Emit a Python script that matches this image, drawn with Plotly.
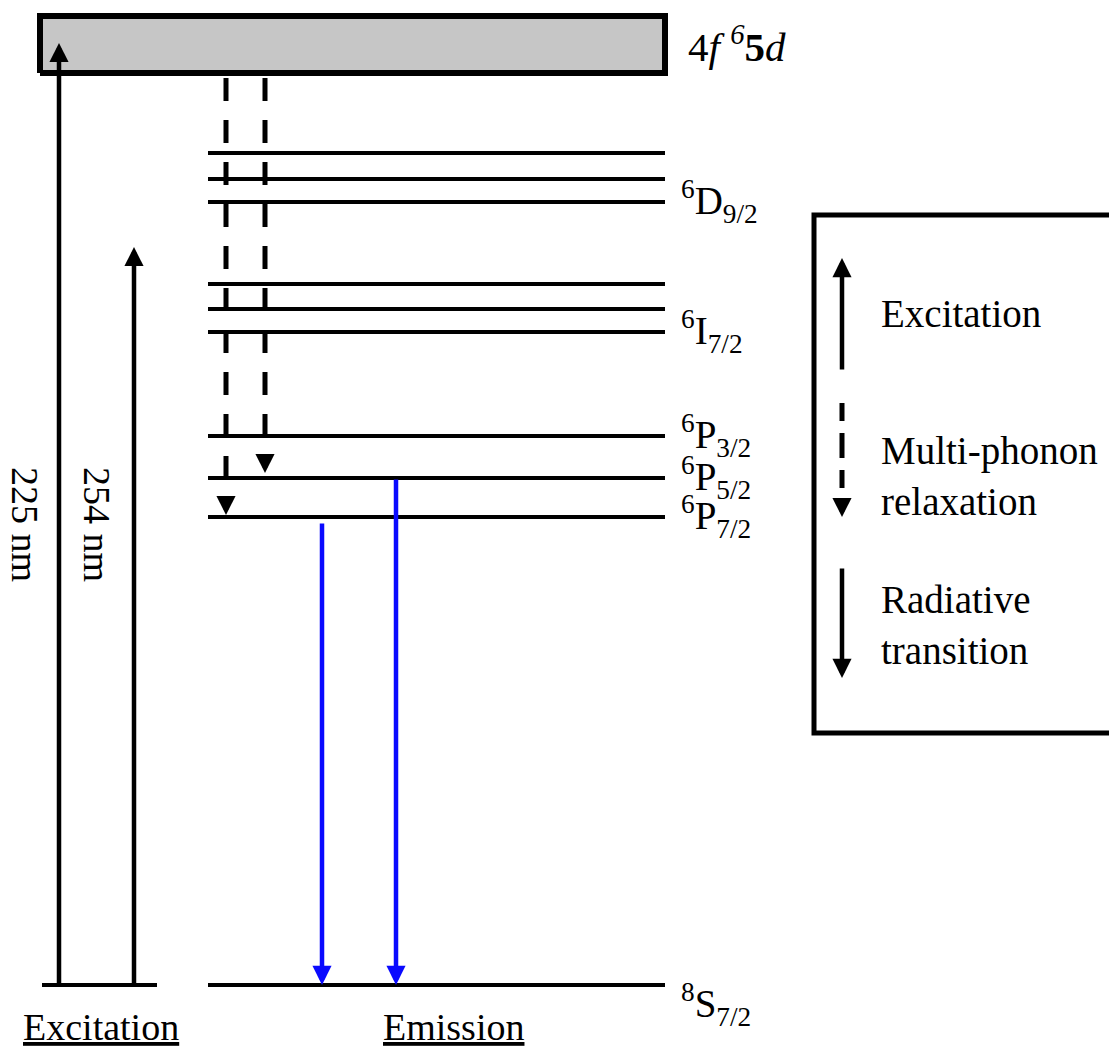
import plotly.graph_objects as go

# ---------------- data (energy in arbitrary units; ground = 0) -------------
band_label = "4<i>f</i> <sup><i>6</i></sup><b>5</b><i>d</i>"
band_energy = [912, 969]                      # lower / upper edge of the 4f65d band

level_terms = ["<sup>6</sup>D<sub>9/2</sub>", "<sup>6</sup>I<sub>7/2</sub>",
               "<sup>6</sup>P<sub>3/2</sub>", "<sup>6</sup>P<sub>5/2</sub>",
               "<sup>6</sup>P<sub>7/2</sub>", "<sup>8</sup>S<sub>7/2</sub>"]
level_groups = [[832, 806, 783], [701, 676, 653], [549], [507], [468], [0]]

excitation_labels = ["225 nm", "254 nm"]
excitation_top = [942, 738]                  # arrow tips
relax_end = [470, 512]                       # multi-phonon relaxation arrow tips (6P7/2, 6P5/2)
emission_start = [463, 507]                  # radiative transitions 6P7/2 -> 8S7/2, 6P5/2 -> 8S7/2
emission_end = [0, 0]

legend_items = ["Excitation", "Multi-phonon<br>relaxation", "Radiative<br>transition"]
column_titles = ["Excitation", "Emission"]

# ---------------- layout constants ----------------
W, H = 1109, 1050
YTOP = 985
FONT = "Liberation Serif"
BLUE = "#0a0aff"

lvl_x0, lvl_x1 = 208, 665
exc_base = [42, 157]
exc_x = [59, 134]
relax_x = [226, 265]
emis_x = [322, 396]
relax_top = 907

fig = go.Figure()

# band (4f65d)
fig.add_trace(go.Scatter(
    x=[40, 665, 665, 40, 40],
    y=[band_energy[0], band_energy[0], band_energy[1], band_energy[1], band_energy[0]],
    mode="lines", fill="toself", fillcolor="#c6c6c6",
    line=dict(color="black", width=6), hoverinfo="skip", showlegend=False))

# energy levels
lx, ly = [], []
for grp in level_groups:
    for e in grp:
        lx += [lvl_x0, lvl_x1, None]
        ly += [e, e, None]
lx += [exc_base[0], exc_base[1], None]
ly += [0, 0, None]
fig.add_trace(go.Scatter(x=lx, y=ly, mode="lines", line=dict(color="black", width=4),
                         hoverinfo="skip", showlegend=False))

# dashed relaxation lines
for xx, e in zip(relax_x, relax_end):
    fig.add_trace(go.Scatter(x=[xx, xx], y=[relax_top, e + 18], mode="lines",
                             line=dict(color="black", width=5, dash="23px,19px"),
                             hoverinfo="skip", showlegend=False))

# legend dashed line
fig.add_trace(go.Scatter(x=[842, 842], y=[YTOP - 403, YTOP - 500], mode="lines",
                         line=dict(color="black", width=5, dash="18px,12px,25px,12px"),
                         hoverinfo="skip", showlegend=False))

annotations = []


def arrow(x, y_tail, y_tip, color="black", width=4.5):
    annotations.append(dict(x=x, y=y_tip, ax=x, ay=y_tail, xref="x", yref="y",
                            axref="x", ayref="y", text="", showarrow=True,
                            arrowhead=2, arrowsize=0.85, arrowwidth=width,
                            arrowcolor=color, standoff=0))


# excitation arrows
for xx, top in zip(exc_x, excitation_top):
    arrow(xx, 0, top)
# relaxation heads
for xx, e in zip(relax_x, relax_end):
    arrow(xx, e + 20, e)
# emission arrows
for xx, s, t in zip(emis_x, emission_start, emission_end):
    arrow(xx, s, t, color=BLUE)
# legend arrows
arrow(842, YTOP - 371, YTOP - 258)
arrow(842, YTOP - 497, YTOP - 517)
arrow(842, YTOP - 567, YTOP - 678)

# legend box
fig.add_shape(type="rect", xref="x", yref="y", x0=814, x1=1130,
              y0=YTOP - 733, y1=YTOP - 215, line=dict(color="black", width=5),
              fillcolor="rgba(0,0,0,0)")

txt = dict(family=FONT, color="black")

# band label
annotations.append(dict(x=686, y=941, xref="x", yref="y", text=band_label,
                        showarrow=False, xanchor="left", yanchor="middle",
                        font=dict(size=41, **txt)))

# level labels
for term, g in zip(level_terms, level_groups):
    e = min(g)
    if e == 0:
        e = -20
    annotations.append(dict(x=679, y=e + 1, xref="x", yref="y", text=term,
                            showarrow=False, xanchor="left", yanchor="middle",
                            font=dict(size=39, **txt)))

# wavelength labels
for xx, lab in zip([25, 97], excitation_labels):
    annotations.append(dict(x=xx, y=YTOP - 524, xref="x", yref="y", text=lab,
                            textangle=90, showarrow=False, xanchor="center",
                            yanchor="middle", font=dict(size=38, **txt)))

# column titles
for xx, lab in zip([101, 453], column_titles):
    annotations.append(dict(x=xx, y=YTOP - 1027, xref="x", yref="y",
                            text="<u>" + lab + "</u>", showarrow=False,
                            xanchor="center", yanchor="middle",
                            font=dict(size=38, **txt)))

# legend texts
for yy, lab in zip([313, 476, 625], legend_items):
    annotations.append(dict(x=879, y=YTOP - yy, xref="x", yref="y", text=lab,
                            showarrow=False, xanchor="left", yanchor="middle",
                            align="left", font=dict(size=39, **txt)))

fig.update_layout(
    width=W, height=H, margin=dict(l=0, r=0, t=0, b=0),
    paper_bgcolor="white", plot_bgcolor="white",
    xaxis=dict(range=[0, W], visible=False, fixedrange=True),
    yaxis=dict(range=[YTOP - H, YTOP], visible=False, fixedrange=True),
    annotations=annotations, showlegend=False,
)

fig.write_html("out.html")
